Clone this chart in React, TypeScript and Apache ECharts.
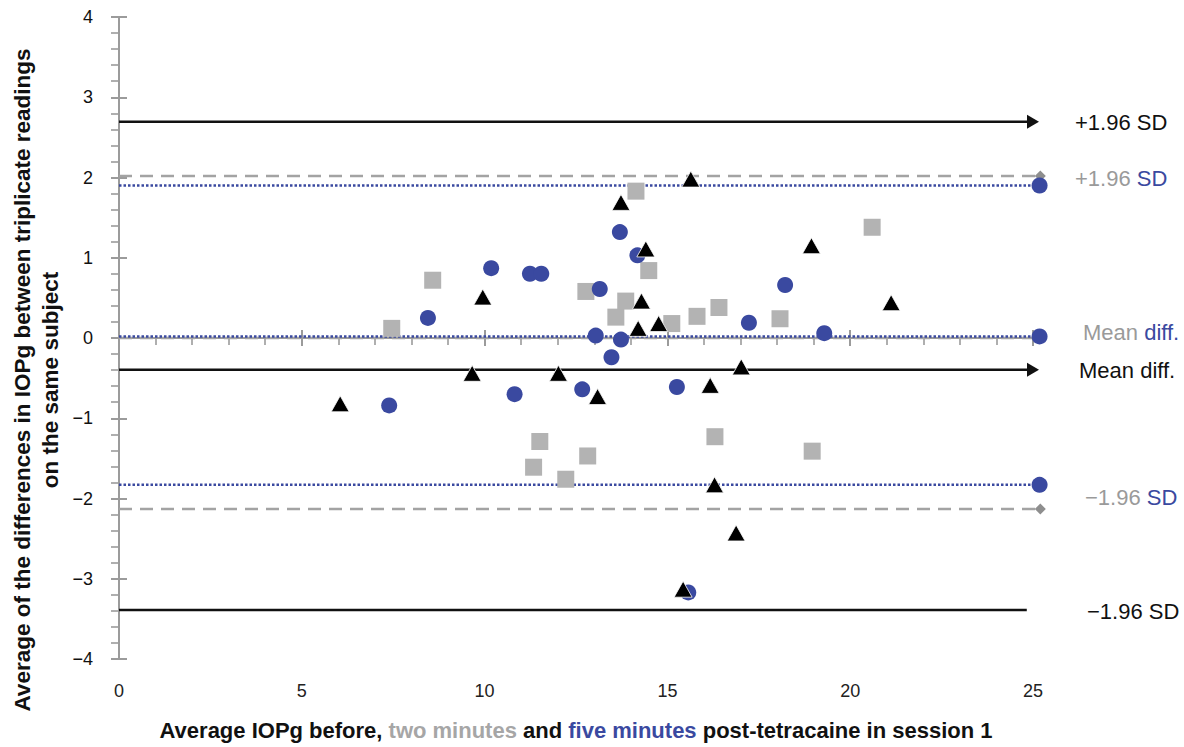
import React, { useEffect, useRef } from "react";
import * as echarts from "echarts";

// "before" (black triangles)
const beforeX = [6.05, 9.66, 9.95, 12.02, 13.09, 13.73, 14.2, 14.29, 14.41, 14.76, 15.43, 15.64, 16.17, 16.29, 16.88, 17.02, 18.94, 21.12];
const beforeY = [-0.82, -0.44, 0.51, -0.44, -0.73, 1.69, 0.12, 0.46, 1.11, 0.18, -3.13, 1.98, -0.59, -1.83, -2.43, -0.36, 1.15, 0.44];
// "two minutes" (grey squares)
const twoX = [7.46, 8.58, 11.34, 11.51, 12.22, 12.77, 12.82, 13.59, 13.86, 14.14, 14.49, 15.12, 15.81, 16.3, 16.41, 18.08, 18.96, 20.6];
const twoY = [0.12, 0.72, -1.61, -1.29, -1.76, 0.58, -1.47, 0.26, 0.46, 1.83, 0.84, 0.18, 0.27, -1.23, 0.38, 0.24, -1.41, 1.38];
// "five minutes" (blue circles)
const fiveX = [7.39, 8.45, 10.18, 10.82, 11.24, 11.55, 12.67, 13.04, 13.15, 13.47, 13.7, 13.73, 14.18, 15.26, 15.57, 17.23, 18.22, 19.29];
const fiveY = [-0.84, 0.25, 0.87, -0.7, 0.8, 0.8, -0.64, 0.03, 0.61, -0.24, 1.32, -0.02, 1.03, -0.61, -3.17, 0.19, 0.66, 0.06];

// limits of agreement: +1.96 SD, mean diff., −1.96 SD
const limitPrefix = ["+1.96", "Mean", "\u22121.96"];
const limitSuffix = ["SD", "diff.", "SD"];
const beforeLimits = [2.695, -0.395, -3.39];
const twoLimits = [2.02, 0.0, -2.13];
const fiveLimits = [1.9, 0.02, -1.83];
const beforeLineEnd = [25.0, 25.0, 24.83];
const beforeArrow = [true, true, false];
const twoLineEnd = 25.2;
const fiveLineEnd = 25.18;

const xTicks = { min: 0, max: 25, interval: 5 };
const yTicks = { min: -4, max: 4, interval: 1 };

const FONT = "'Liberation Sans', Arial, Helvetica, sans-serif";
const BLUE = "#3a49a0";
const GREY_SQ = "#b3b3b3";
const GREY_LINE = "#a3a3a3";
const GREY_TXT = "#9a9a9a";
const AXIS = "#9b9b9b";

export default function App() {
  const ref = useRef<HTMLDivElement>(null);
  useEffect(() => {
    document.body.style.margin = "0";
    const chart = echarts.init(ref.current!, null, { renderer: "svg" });
    const series: any[] = [];
    twoLimits.forEach((v) =>
      series.push({
        type: "line", silent: true, clip: false, symbol: "none", z: 1,
        data: [[0, v], [twoLineEnd, v]],
        lineStyle: { color: GREY_LINE, width: 2.5, type: [13, 8] },
      })
    );
    fiveLimits.forEach((v) =>
      series.push({
        type: "line", silent: true, clip: false, symbol: "none", z: 1,
        data: [[0, v], [fiveLineEnd, v]],
        lineStyle: { color: BLUE, width: 2.5, type: [2.5, 2] },
      })
    );
    beforeLimits.forEach((v, i) =>
      series.push({
        type: "line", silent: true, clip: false, symbol: "none", z: 2,
        data: [[0, v], [beforeLineEnd[i], v]],
        lineStyle: { color: "#111", width: 2.5 },
      })
    );
    series.push({
      type: "scatter", silent: true, clip: false, symbol: "triangle", symbolSize: [14, 12], symbolRotate: -90, z: 3,
      itemStyle: { color: "#111", opacity: 1 },
      data: beforeLimits.map((v, i) => (beforeArrow[i] ? [beforeLineEnd[i], v] : null)).filter(Boolean),
    });
    series.push({
      type: "scatter", silent: true, clip: false, symbol: "diamond", symbolSize: 11, z: 3,
      itemStyle: { color: "#8e8e8e", opacity: 1 },
      data: twoLimits.map((v) => [twoLineEnd, v]),
    });
    series.push({
      type: "scatter", silent: true, clip: false, symbol: "circle", symbolSize: 16, z: 3,
      itemStyle: { color: BLUE, opacity: 1 },
      data: fiveLimits.map((v) => [fiveLineEnd, v]),
    });
    series.push({
      type: "scatter", clip: false, symbol: "rect", symbolSize: 17, z: 4,
      itemStyle: { color: GREY_SQ, opacity: 1 },
      data: twoX.map((x, i) => [x, twoY[i]]),
    });
    series.push({
      type: "scatter", clip: false, symbol: "circle", symbolSize: 16, z: 5,
      itemStyle: { color: BLUE, opacity: 1 },
      data: fiveX.map((x, i) => [x, fiveY[i]]),
    });
    series.push({
      type: "scatter", clip: false, symbol: "triangle", symbolSize: [18, 16], z: 6,
      itemStyle: { color: "#000", borderColor: "#fff", borderWidth: 0.8, opacity: 1 },
      data: beforeX.map((x, i) => [x, beforeY[i]]),
    });

    const grid = { left: 119, right: 151, top: 17, bottom: 88 };
    const yFmt = (v: number) => (v < 0 ? "\u2212" + Math.abs(v) : String(v));
    chart.setOption({
      animation: false,
      grid,
      xAxis: [
        {
          type: "value", ...xTicks, position: "bottom",
          axisLine: { onZero: true, lineStyle: { color: AXIS, width: 2 } },
          axisTick: { show: true, length: 8, lineStyle: { color: AXIS, width: 2 } },
          minorTick: { show: true, splitNumber: 5, length: 7, lineStyle: { color: AXIS, width: 1.6 } },
          axisLabel: { show: false }, splitLine: { show: false },
        },
        {
          type: "value", ...xTicks, position: "top",
          axisLine: { show: false, onZero: true },
          axisTick: { show: true, length: 8, lineStyle: { color: AXIS, width: 2 } },
          axisLabel: { show: false }, splitLine: { show: false },
        },
        {
          type: "value", ...xTicks, position: "bottom",
          axisLine: { show: false, onZero: false },
          axisTick: { show: false },
          axisLabel: { show: true, margin: 23, fontSize: 18, color: "#222", fontFamily: FONT },
          splitLine: { show: false },
          name: "{k|Average IOPg before, }{g|two minutes}{k| and }{b|five minutes}{k| post-tetracaine in session 1}",
          nameLocation: "middle",
          nameGap: 60,
          nameTextStyle: {
            fontFamily: FONT, fontSize: 22, fontWeight: "bold",
            rich: {
              k: { color: "#111", fontFamily: FONT, fontSize: 22, fontWeight: "bold" },
              g: { color: "#a6a6a6", fontFamily: FONT, fontSize: 22, fontWeight: "bold" },
              b: { color: BLUE, fontFamily: FONT, fontSize: 22, fontWeight: "bold" },
            },
          },
        },
      ],
      yAxis: [
        {
          type: "value", ...yTicks, position: "left",
          axisLine: { show: true, onZero: false, lineStyle: { color: AXIS, width: 2 } },
          axisTick: { show: true, length: 8, lineStyle: { color: AXIS, width: 2 } },
          minorTick: { show: true, splitNumber: 5, length: 8, lineStyle: { color: AXIS, width: 1.6 } },
          axisLabel: { show: true, margin: 26, fontSize: 18, color: "#111", fontFamily: FONT, formatter: yFmt },
          splitLine: { show: false },
        },
        {
          type: "value", ...yTicks, position: "left",
          axisLine: { show: false, onZero: false },
          axisTick: { show: true, inside: true, length: 8, lineStyle: { color: AXIS, width: 2 } },
          axisLabel: { show: false }, splitLine: { show: false },
        },
      ],
      series,
    });

    const px = (x: number, y: number) => chart.convertToPixel({ xAxisIndex: 0, yAxisIndex: 0 }, [x, y]) as number[];
    const blackX = [1075, 1079, 1087];
    const colX = [1075, 1083, 1085];
    const colDy = [-2, -5, 1];
    const graphic: any[] = [];
    beforeLimits.forEach((v, i) => {
      const p = px(25, v);
      graphic.push({
        type: "text", x: blackX[i], y: p[1] + 1, silent: true,
        style: { text: limitPrefix[i] + " " + limitSuffix[i], fill: "#111", font: `22px ${FONT}`, verticalAlign: "middle", align: "left" },
      });
    });
    twoLimits.forEach((v, i) => {
      const p = px(25, (v + fiveLimits[i]) / 2);
      graphic.push({
        type: "text", x: colX[i], y: p[1] + colDy[i], silent: true,
        style: {
          text: `{g|${limitPrefix[i]} }{b|${limitSuffix[i]}}`,
          font: `22px ${FONT}`, verticalAlign: "middle", align: "left",
          rich: {
            g: { fill: GREY_TXT, fontSize: 22, fontFamily: FONT },
            b: { fill: BLUE, fontSize: 22, fontFamily: FONT },
          },
        },
      });
    });
    graphic.push({
      type: "text", x: 36, y: 380, rotation: Math.PI / 2, silent: true,
      style: {
        text: "Average of the differences in IOPg between triplicate readings\non the same subject",
        fill: "#111", font: `bold 22.5px ${FONT}`, align: "center", verticalAlign: "middle", lineHeight: 28,
      },
    });
    chart.setOption({ graphic });

    return () => chart.dispose();
  }, []);
  return <div ref={ref} style={{ width: 1184, height: 747 }} />;
}
